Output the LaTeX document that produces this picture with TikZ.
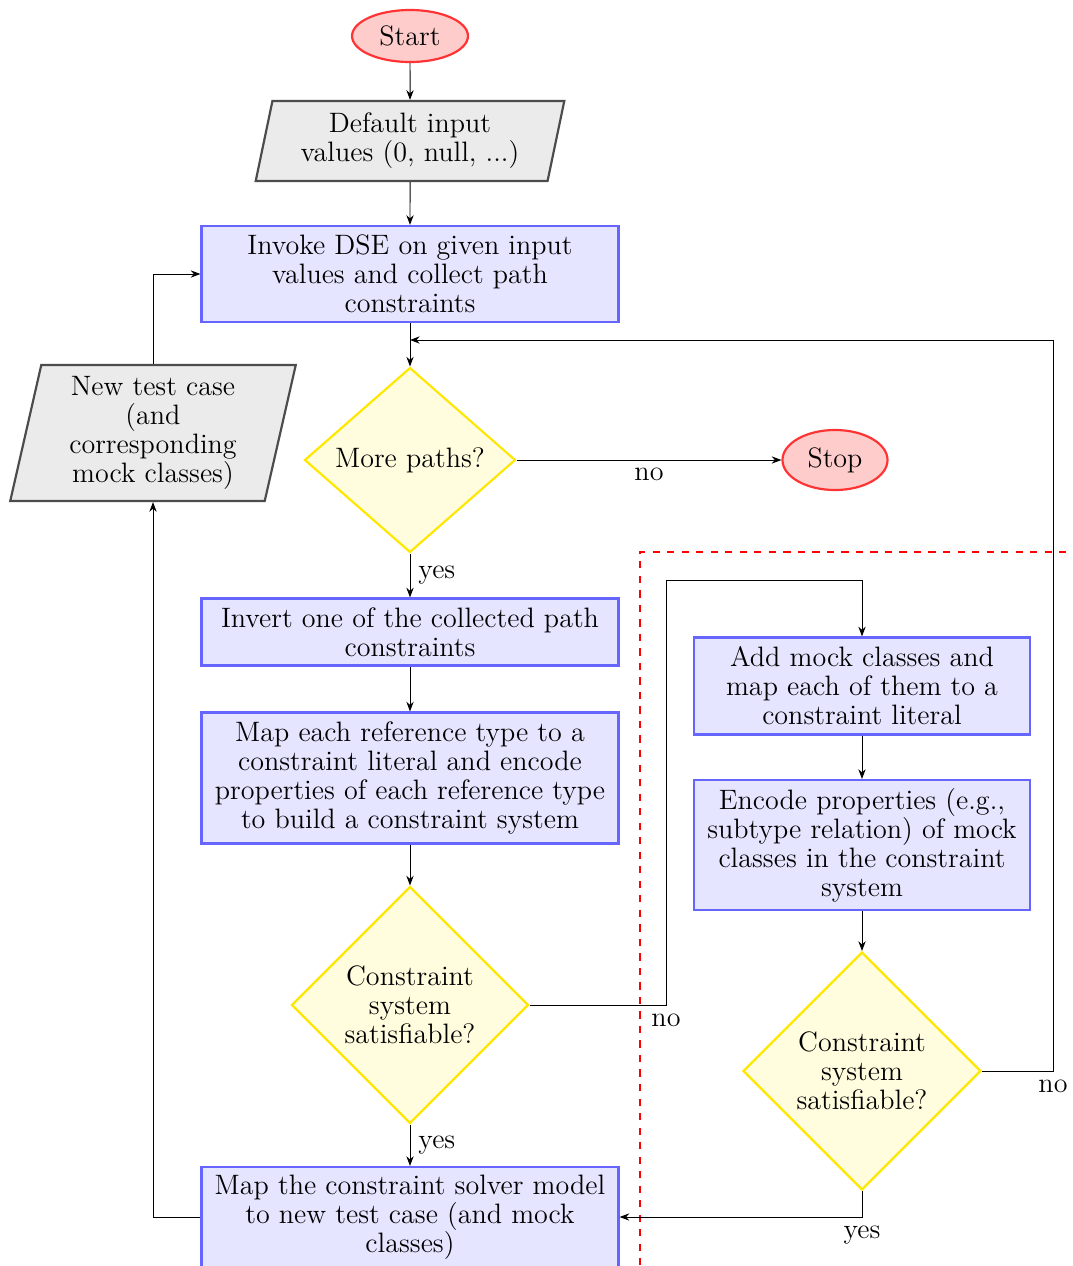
\documentclass[tikz,border=0pt]{standalone}
\usetikzlibrary{shapes.geometric,arrows.meta}
\begin{document}
\begin{tikzpicture}[x=0.4132pt,y=-0.4132pt,
 every node/.style={font=\fontsize{11.6}{12}\selectfont},
 proc/.style={rectangle, draw=blue!60, fill=blue!10, line width=0.9pt, align=center, inner sep=0pt, minimum width=172.3pt},
 term/.style={ellipse, draw=red!80, fill=red!20, line width=0.9pt, inner sep=0pt},
 dec/.style={diamond, draw=yellow!95!red, fill=yellow!13, line width=0.9pt, align=center, inner sep=0pt},
 io/.style={trapezium, trapezium stretches=true, draw=black!70, fill=black!8, line width=0.9pt, align=center, inner sep=0pt},
 conn/.style={-{Stealth[length=4pt,width=3pt]}, line width=0.4pt},
 lbl/.style={inner sep=3.3pt}
]
\fill[white] (0,0) rectangle (1073,1266);
\useasboundingbox (0,0) rectangle (1073,1266);

\node[term, minimum width=47.9pt, minimum height=21.5pt] (start) at (410,36) {Start};
\node[io, trapezium left angle=76.6, trapezium right angle=103.4, minimum width=127.7pt, minimum height=33.1pt] (def) at (410,141) {Default input\\values (0, null, ...)};
\node[proc, minimum height=39.7pt] (inv) at (410,274) {Invoke DSE on given input\\values and collect path\\constraints};
\node[dec, minimum width=87.2pt, minimum height=76.4pt] (more) at (410,460) {More paths?};
\node[term, minimum width=43.4pt, minimum height=24.8pt] (stop) at (835,460) {Stop};
\node[io, trapezium left angle=78.4, trapezium right angle=101.6, minimum width=118.2pt, minimum height=56.2pt] (newtc) at (153,433) {New test case\\(and\\corresponding\\mock classes)};
\node[proc, minimum height=27.7pt] (invert) at (410,632) {Invert one of the collected path\\constraints};
\node[proc, minimum height=54.1pt] (mapref) at (410,778) {Map each reference type to a\\constraint literal and encode\\properties of each reference type\\to build a constraint system};
\node[dec, minimum width=97.9pt, minimum height=97.9pt] (sat1) at (410,1005) {Constraint\\system\\satisfiable?};
\node[proc, minimum height=41.3pt] (mapsol) at (410,1217) {Map the constraint solver model\\to new test case (and mock\\classes)};
\node[proc, minimum width=138.8pt, minimum height=40.1pt] (addm) at (862,686) {Add mock classes and\\map each of them to a\\constraint literal};
\node[proc, minimum width=138.8pt, minimum height=53.7pt] (enc) at (862,845) {Encode properties (e.g.,\\subtype relation) of mock\\classes in the constraint\\system};
\node[dec, minimum width=98.3pt, minimum height=98.3pt] (sat2) at (862,1071) {Constraint\\system\\satisfiable?};

\coordinate (j1) at (410,340);
\coordinate (c0) at (666,1005);
\coordinate (c1) at (666,580);
\coordinate (c2) at (1053,1071);
\coordinate (c3) at (1053,340);
\coordinate (c4) at (862,1217);

\draw[red, dashed, line width=0.8pt] (640,1280) -- (640,552) -- (1090,552);

\draw[conn] (start) -- (def);
\draw[conn] (def) -- (inv);
\draw[conn] (inv) -- (more);
\draw[conn] (more) -- node[lbl, below] (lno1) {no} (stop);
\draw[conn] (more) -- node[lbl, right] (lyes1) {yes} (invert);
\draw[conn] (invert) -- (mapref);
\draw[conn] (mapref) -- (sat1);
\draw[conn] (sat1) -- node[lbl, right] (lyes2) {yes} (mapsol);
\draw[conn] (mapsol.west) -| (newtc.south);
\draw[conn] (newtc.north) |- (inv.west);
\draw[conn] (sat1.east) -- (c0) -- (c1) -| (addm.north);
\node[lbl, below] (lno2) at (c0) {no};
\draw[conn] (addm) -- (enc);
\draw[conn] (enc) -- (sat2);
\draw[conn] (sat2.east) -- (c2) -- (c3) -- (j1);
\node[lbl, below] (lno3) at (c2) {no};
\draw[conn] (sat2.south) -- (c4) -- (mapsol.east);
\node[lbl, below] (lyes3) at (c4) {yes};
\end{tikzpicture}
\end{document}
